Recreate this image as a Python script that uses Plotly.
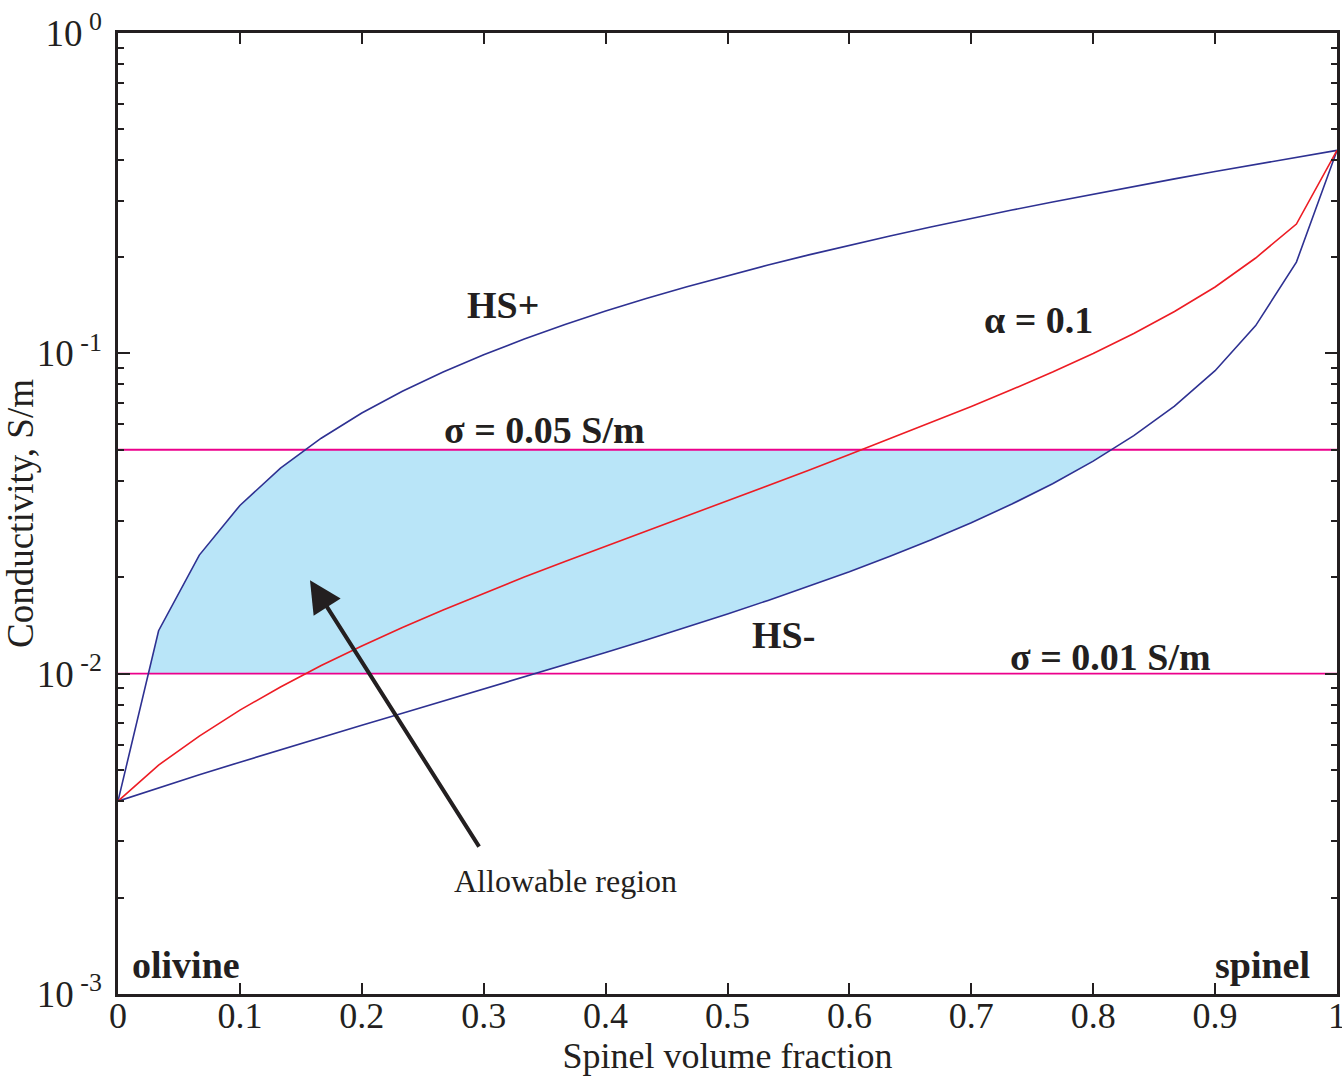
import numpy as np
import plotly.graph_objects as go

# ---------------- data ----------------
spinel_fraction = [0.0, 0.0333, 0.0667, 0.1, 0.1333, 0.1667, 0.2, 0.2333, 0.2667, 0.3,
                   0.3333, 0.3667, 0.4, 0.4333, 0.4667, 0.5, 0.5333, 0.5667, 0.6, 0.6333,
                   0.6667, 0.7, 0.7333, 0.7667, 0.8, 0.8333, 0.8667, 0.9, 0.9333, 0.9667, 1.0]

hs_upper = [0.004, 0.01362, 0.02345, 0.03351, 0.04380, 0.05432, 0.06510, 0.07613, 0.08743, 0.09901,
            0.11087, 0.12303, 0.13550, 0.14829, 0.16141, 0.17488, 0.18870, 0.20290, 0.21749, 0.23249,
            0.24791, 0.26378, 0.28010, 0.29690, 0.31421, 0.33204, 0.35043, 0.36939, 0.38895, 0.40914, 0.43]

hs_lower = [0.004, 0.004402, 0.004832, 0.005293, 0.005788, 0.006322, 0.006898, 0.007523, 0.008202, 0.008944,
            0.009757, 0.010652, 0.011641, 0.012742, 0.013973, 0.015360, 0.016934, 0.018734, 0.020816, 0.023249,
            0.026130, 0.029597, 0.033847, 0.039181, 0.046074, 0.055325, 0.068396, 0.088263, 0.122099, 0.192611, 0.43]

alpha_01 = [0.004, 0.005184, 0.006385, 0.007697, 0.009082, 0.010600, 0.012196, 0.013929, 0.015793, 0.017823,
            0.020029, 0.022402, 0.024989, 0.027835, 0.031004, 0.034557, 0.038581, 0.043126, 0.048283, 0.054117,
            0.060808, 0.068232, 0.077097, 0.087406, 0.099857, 0.115290, 0.135030, 0.161070, 0.198430, 0.253320, 0.43]

sigma_low = 0.01
sigma_high = 0.05

y_tickvals = [0.001, 0.01, 0.1, 1]
y_ticktext = ["10<sup> -3</sup>", "10<sup> -2</sup>", "10<sup> -1</sup>", "10<sup> 0</sup>"]
x_tickvals = [0, 0.1, 0.2, 0.3, 0.4, 0.5, 0.6, 0.7, 0.8, 0.9, 1]
x_ticktext = ["0", "0.1", "0.2", "0.3", "0.4", "0.5", "0.6", "0.7", "0.8", "0.9", "1"]

# ---------------- styling ----------------
FONT = "Liberation Serif, Times New Roman, serif"
INK = "#231f20"
NAVY = "#2e3192"
RED = "#ed1c24"
PINK = "#ec008c"
FILL = "#b9e5f8"


def crossing(xs, ys, level):
    ly = np.log10(ys)
    lv = np.log10(level)
    for k in range(len(xs) - 1):
        if (ly[k] - lv) * (ly[k + 1] - lv) <= 0 and ly[k] != ly[k + 1]:
            t = (lv - ly[k]) / (ly[k + 1] - ly[k])
            return xs[k] + t * (xs[k + 1] - xs[k]), k
    return None, None


# allowable region polygon: between the two sigma levels, right of HS+ and left of HS-
xa_lo, ka_lo = crossing(spinel_fraction, hs_upper, sigma_low)
xa_hi, ka_hi = crossing(spinel_fraction, hs_upper, sigma_high)
xb_hi, kb_hi = crossing(spinel_fraction, hs_lower, sigma_high)
xb_lo, kb_lo = crossing(spinel_fraction, hs_lower, sigma_low)

poly_x = [xa_lo] + spinel_fraction[ka_lo + 1:ka_hi + 1] + [xa_hi, xb_hi]
poly_y = [sigma_low] + hs_upper[ka_lo + 1:ka_hi + 1] + [sigma_high, sigma_high]
poly_x += spinel_fraction[kb_lo + 1:kb_hi + 1][::-1] + [xb_lo, xa_lo]
poly_y += hs_lower[kb_lo + 1:kb_hi + 1][::-1] + [sigma_low, sigma_low]

fig = go.Figure()
fig.add_trace(go.Scatter(x=poly_x, y=poly_y, fill="toself", fillcolor=FILL,
                         mode="lines", line=dict(width=0, color=FILL), hoverinfo="skip"))
for lvl in (sigma_low, sigma_high):
    fig.add_trace(go.Scatter(x=[0, 1], y=[lvl, lvl], mode="lines",
                             line=dict(color=PINK, width=1.8)))
fig.add_trace(go.Scatter(x=spinel_fraction, y=hs_upper, mode="lines",
                         line=dict(color=NAVY, width=1.6)))
fig.add_trace(go.Scatter(x=spinel_fraction, y=hs_lower, mode="lines",
                         line=dict(color=NAVY, width=1.6)))
fig.add_trace(go.Scatter(x=spinel_fraction, y=alpha_01, mode="lines",
                         line=dict(color=RED, width=1.6)))

minor_vals = [m * d for d in (0.001, 0.01, 0.1) for m in range(2, 10)]

fig.update_layout(
    width=1342, height=1080,
    margin=dict(l=118, r=5, t=33, b=86),
    paper_bgcolor="white", plot_bgcolor="white",
    showlegend=False,
    font=dict(family=FONT, color=INK, size=36),
    xaxis=dict(range=[0, 1], tickmode="array", tickvals=x_tickvals, ticktext=x_ticktext,
               ticks="inside", ticklen=11, tickwidth=1.5, tickcolor=INK,
               showline=True, linewidth=2.5, linecolor=INK, mirror="allticks",
               showgrid=False, zeroline=False, ticklabelstandoff=-12,
               ticklabeloverflow="allow", automargin=False,
               tickfont=dict(family=FONT, size=36, color=INK),
               title=dict(text="Spinel volume fraction", font=dict(family=FONT, size=36, color=INK),
                          standoff=0)),
    yaxis=dict(type="log", range=[-3, 0], tickmode="array", tickvals=y_tickvals, ticktext=y_ticktext,
               ticks="inside", ticklen=12, tickwidth=1.5, tickcolor=INK,
               minor=dict(tickmode="array", tickvals=minor_vals, ticks="inside", ticklen=6,
                          tickwidth=1.5, tickcolor=INK, showgrid=False),
               showline=True, linewidth=2.5, linecolor=INK, mirror="allticks",
               showgrid=False, zeroline=False, ticklabelstandoff=6, automargin=False,
               tickfont=dict(family=FONT, size=37, color=INK),
               title=dict(text="Conductivity, S/m", font=dict(family=FONT, size=37, color=INK),
                          standoff=6)),
)

def label(x, ly, text, size=38, bold=True, xanchor="center"):
    fig.add_annotation(x=x, y=ly, xref="x", yref="y", text=("<b>%s</b>" % text) if bold else text,
                       showarrow=False, xanchor=xanchor, yanchor="middle",
                       font=dict(family=FONT, size=size, color=INK))

label(0.316, -0.849, "HS+")
label(0.755, -0.896, "α = 0.1")
label(0.350, -1.2395, "σ = 0.05 S/m")
label(0.546, -1.8795, "HS-")
label(0.814, -1.948, "σ = 0.01 S/m")
label(0.3667, -2.6475, "Allowable region", size=32, bold=False)
label(0.0098, -2.91, "olivine", xanchor="left")
label(0.9795, -2.91, "spinel", xanchor="right")

fig.add_annotation(x=0.1575, y=-1.708, xref="x", yref="y",
                   ax=0.297, ay=-2.5445, axref="x", ayref="y",
                   text="", showarrow=True, arrowhead=2, arrowsize=1.6,
                   arrowwidth=4, arrowcolor=INK)

fig.write_html("out.html")
